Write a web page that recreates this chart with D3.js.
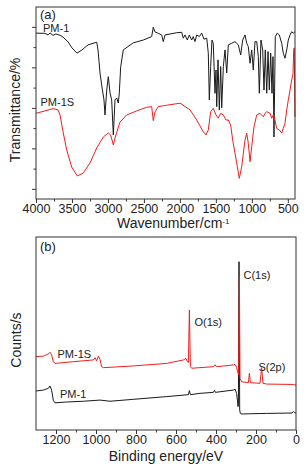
<!DOCTYPE html>
<html><head><meta charset="utf-8">
<script src="https://cdn.jsdelivr.net/npm/d3@7/dist/d3.min.js"></script>
<style>
html,body{margin:0;padding:0;background:#fff;}
svg{display:block;font-family:"Liberation Sans",Arial,sans-serif;}
</style></head>
<body><svg id="chart" width="308" height="470"></svg>
<script>
// ---------- (a) FT-IR data ----------
const irWnPM1 = [4000,3875,3833,3805,3764,3722,3666,3625,3555,3500,3430,3361,3277,3156,3138,3110,3083,3055,3041,3017,2995,2971,2948,2925,2902,2878,2856,2842,2823,2787,2648,2508,2392,2370,2346,2300,2253,2231,2207,2044,1975,1953,1929,1897,1869,1836,1814,1790,1766,1730,1697,1665,1627,1605,1591,1572,1554,1536,1512,1498,1488,1470,1452,1433,1419,1396,1373,1349,1327,1280,1234,1188,1155,1127,1095,1071,1049,1025,1002,980,956,932,910,896,873,849,831,813,793,775,757,738,720,706,692,674,646,618,585,563,539,515,493,469,446,424,400];
const irTPM1 = [76.9,76.8,76.0,77.0,75.8,76.5,75.8,75.0,72.6,69.6,67.0,68.6,71.1,72.4,68.6,57.2,50.3,43.9,36.5,48.8,55.4,47.4,43.9,26.6,43.9,44.9,42.4,47.4,60.2,68.6,72.1,73.5,75.2,79.8,77.5,76.8,76.0,72.7,76.0,77.1,77.3,74.4,76.0,73.5,76.0,73.5,75.2,72.7,76.0,75.2,76.9,73.9,74.4,67.0,43.9,60.4,73.5,71.9,47.2,58.7,40.6,63.7,39.0,60.4,40.0,60.4,68.6,57.2,71.1,71.9,72.7,71.1,66.1,73.5,76.0,71.9,70.2,62.0,68.6,58.7,72.7,72.7,65.3,47.2,73.5,68.6,48.8,68.6,47.2,67.8,48.8,67.0,47.2,65.3,25.6,75.2,76.9,76.0,71.9,67.0,64.5,68.6,73.5,76.0,77.6,76.9,77.6];
const irWnPM1S = [4000,3875,3760,3694,3666,3621,3573,3504,3426,3343,3249,3156,3065,2995,2962,2925,2902,2832,2739,2600,2461,2392,2370,2346,2300,2183,1998,1859,1766,1675,1637,1605,1572,1536,1498,1466,1433,1396,1359,1327,1294,1266,1234,1202,1174,1141,1118,1095,1071,1049,1025,1002,970,932,886,840,817,793,747,724,701,678,655,618,585,563,539,515,493,469,446,428,418,410,403,400];
const irTPM1S = [37.3,38.5,39.6,39.0,36.5,27.6,19.2,10.8,6.4,7.8,12.8,20.2,25.6,27.6,26.6,21.7,25.1,33.0,36.5,38.5,40.3,40.6,33.7,38.0,40.6,41.3,42.3,39.0,34.0,28.2,26.6,29.1,38.1,39.8,36.5,34.9,37.3,36.5,34.0,34.0,31.5,24.1,17.6,11.0,5.2,11.0,17.6,24.1,27.5,22.5,13.4,20.8,30.7,36.5,37.3,35.6,37.3,38.1,37.3,34.9,36.5,34.0,29.9,29.1,27.5,29.9,32.4,39.0,43.9,48.8,53.8,56.7,68.6,69.6,43.9,35.5];
const irMajorTicks = [4000,3500,3000,2500,2000,1500,1000,500];
const irMinorTicks = [3750,3250,2750,2250,1750,1250,750];
const irYMajor = [0,20,40,60,80];
const irYMinor = [10,30,50,70];

// ---------- (b) XPS data ----------
const xpsEPM1 = [1300,1263,1238,1230,1222,1213,1205,1147,1063,980,930,813,647,538,533,528,480,413,408,403,313,305,297,293,290,288,285,281.5,278.5,275,147,20,13,6,0];
const xpsCPM1 = [20.2,20.7,21.6,22.8,20.7,15.2,14.1,14.5,14.9,15.5,14.9,15.9,17.3,18.3,20.4,18.3,19.0,19.5,20.5,19.5,20.7,21.2,19.0,15.5,12.1,13.0,87.2,10.4,8.6,8.3,8.6,8.8,9.6,8.9,8.8];
const xpsEPM1S = [1300,1263,1238,1230,1222,1213,1205,1113,1013,1005,997,988,980,972,963,813,647,563,550,543,538,533,528,522,413,405,397,313,305,297,292,287,283,280,272,238,233,228,180,172,165,147,13,0];
const xpsCPM1S = [38.0,38.3,39.4,40.3,38.9,35.4,34.5,35.4,36.3,37.5,35.8,38.3,36.6,32.8,32.3,33.2,34.5,36.3,37.1,35.4,35.0,62.2,32.8,32.0,32.8,33.8,32.8,33.7,34.0,32.5,30.2,28.5,79.4,26.8,25.0,24.5,29.4,24.5,24.2,32.3,24.2,23.8,23.6,23.2];
const xpsMajorTicks = [1200,1000,800,600,400,200,0];
const xpsMinorTicks = [1100,900,700,500,300,100];

const svg = d3.select("#chart");
const axisColor = "#333";
const textColor = "#222";
const black = "#1a1a1a";
const red = "#f01e1e";

function panel(cfg){
  const g = svg.append("g");
  const x = d3.scaleLinear().domain(cfg.xDomain).range([cfg.left, cfg.right]);
  const y = d3.scaleLinear().domain(cfg.yDomain).range([cfg.bottom, cfg.top]);
  // x ticks
  g.append("g").attr("transform",`translate(0,${cfg.bottom})`)
    .call(d3.axisBottom(x).tickValues(cfg.xMajor).tickSize(4).tickSizeOuter(0).tickPadding(2).tickFormat(d3.format("d")))
    .call(a=>{a.select(".domain").remove();a.selectAll("line").attr("stroke",axisColor);
      a.selectAll("text").attr("font-size",12.5).attr("dy","0.66em").attr("fill",textColor).attr("font-family","Liberation Sans, Arial, sans-serif");});
  g.append("g").attr("transform",`translate(0,${cfg.bottom})`)
    .call(d3.axisBottom(x).tickValues(cfg.xMinor).tickSize(2.5).tickSizeOuter(0).tickFormat(""))
    .call(a=>{a.select(".domain").remove();a.selectAll("line").attr("stroke",axisColor);});
  if(cfg.yMajor){
    g.append("g").attr("transform",`translate(${cfg.left},0)`)
      .call(d3.axisLeft(y).tickValues(cfg.yMajor).tickSize(4).tickSizeOuter(0).tickFormat(""))
      .call(a=>{a.select(".domain").remove();a.selectAll("line").attr("stroke",axisColor);});
    g.append("g").attr("transform",`translate(${cfg.left},0)`)
      .call(d3.axisLeft(y).tickValues(cfg.yMinor).tickSize(2.5).tickSizeOuter(0).tickFormat(""))
      .call(a=>{a.select(".domain").remove();a.selectAll("line").attr("stroke",axisColor);});
  }
  // curves
  cfg.series.forEach(s=>{
    const pts = s.xs.map((v,i)=>[v,s.ys[i]]);
    g.append("path").datum(pts)
      .attr("fill","none").attr("stroke",s.color).attr("stroke-width",1)
      .attr("stroke-linejoin","round")
      .attr("d",d3.line().x(d=>x(d[0])).y(d=>y(d[1])));
  });
  // frame
  g.append("rect").attr("x",cfg.left).attr("y",cfg.top)
    .attr("width",cfg.right-cfg.left).attr("height",cfg.bottom-cfg.top)
    .attr("fill","none").attr("stroke",axisColor).attr("stroke-width",1);
  return {g,x,y};
}

// Panel (a)
const A = panel({left:36,right:295,top:7,bottom:199,xDomain:[4000,400],yDomain:[-5,89.8],
  xMajor:irMajorTicks,xMinor:irMinorTicks,yMajor:irYMajor,yMinor:irYMinor,
  series:[{xs:irWnPM1,ys:irTPM1,color:black},{xs:irWnPM1S,ys:irTPM1S,color:red}]});
// Panel (b)
const B = panel({left:36,right:296,top:237,bottom:430,xDomain:[1300,0],yDomain:[0,100],
  xMajor:xpsMajorTicks,xMinor:xpsMinorTicks,
  series:[{xs:xpsEPM1,ys:xpsCPM1,color:black},{xs:xpsEPM1S,ys:xpsCPM1S,color:red}]});

function txt(x,y,s,size,opts={}){
  const t = svg.append("text").attr("x",x).attr("y",y).attr("font-size",size)
    .attr("fill",textColor).text(s);
  if(opts.anchor) t.attr("text-anchor",opts.anchor);
  if(opts.rotate) t.attr("transform",`rotate(-90,${x},${y})`);
  return t;
}
// panel (a) texts
txt(40,18.5,"(a)",13);
txt(43,31.5,"PM-1",11);
txt(40.5,106,"PM-1S",11);
txt(19.5,110,"Transmittance/%",14,{anchor:"middle",rotate:true});
const wt = txt(117,228,"Wavenumber/cm",14);
wt.append("tspan").attr("font-size",8).attr("dy",-4.5).text("-1");
// panel (b) texts
txt(40,250.5,"(b)",13);
txt(243.5,278.5,"C(1s)",11);
txt(194.5,326,"O(1s)",11);
txt(258.5,370.5,"S(2p)",11);
txt(57.5,357.5,"PM-1S",11);
txt(60,397.5,"PM-1",11);
txt(21,340,"Counts/s",14,{anchor:"middle",rotate:true});
txt(166,460.5,"Binding energy/eV",14,{anchor:"middle"});
</script></body></html>
